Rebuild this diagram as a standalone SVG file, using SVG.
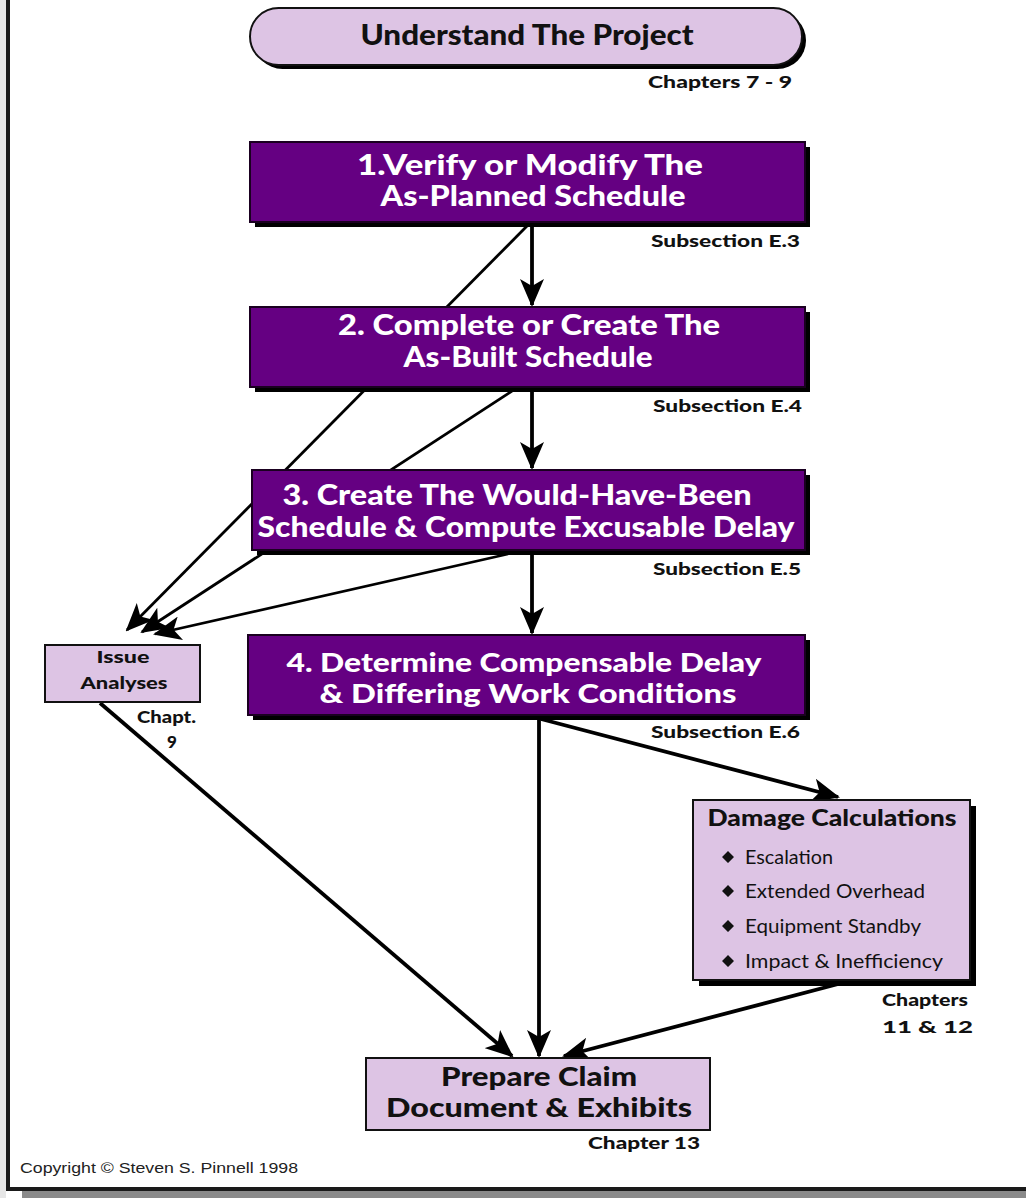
<svg xmlns="http://www.w3.org/2000/svg" width="1026" height="1198" viewBox="0 0 1026 1198">
<style>
.bg{fill:#ffffff}
.shadow{fill:#000000}
.purple{fill:#650082;stroke:#1a0020;stroke-width:2}
.lav{fill:#ddc4e4;stroke:#111;stroke-width:2}
.t{font-family:Lato,"Open Sans","Liberation Sans",sans-serif;font-weight:900}
.w{fill:#ffffff;font-size:28px;text-anchor:middle}
.k{fill:#111111}
.lbl{font-size:17px;text-anchor:end}
.item{font-family:Lato,"Open Sans","Liberation Sans",sans-serif;font-size:19px;fill:#111}
.edge{stroke:#000;stroke-width:3.8;fill:none}
.thin{stroke-width:2.8}
.arr{marker-end:url(#ah)}
</style>
<defs>
<marker id="ah" markerUnits="userSpaceOnUse" viewBox="0 0 28 24" markerWidth="28" markerHeight="24" refX="26" refY="12" orient="auto">
<path d="M0,0 L28,12 L0,24 L7,12 z" fill="#000"/>
</marker>
</defs>
<rect x="0" y="0" width="1026" height="1198" class="bg"/>
<rect x="0" y="0" width="6" height="1198" fill="#e6e6e6"/>
<rect x="6" y="0" width="4" height="1191" fill="#1a1a1a"/>
<rect x="6" y="1187" width="1020" height="4" fill="#1a1a1a"/>
<rect x="22" y="1191" width="1004" height="7" fill="#8a8a8a"/>

<g id="connectors">
<line class="edge thin arr" x1="527" y1="226" x2="127" y2="630"/>
<line class="edge thin arr" x1="512" y1="391" x2="142" y2="632"/>
<line class="edge thin arr" x1="508" y1="554" x2="155" y2="634"/>
<line class="edge arr" x1="532" y1="226" x2="532" y2="305"/>
<line class="edge arr" x1="532" y1="391" x2="532" y2="468"/>
<line class="edge arr" x1="532" y1="554" x2="532" y2="633"/>
<line class="edge arr" x1="539" y1="719" x2="539" y2="1056"/>
<line class="edge arr" x1="541" y1="719" x2="838" y2="797"/>
<line class="edge arr" x1="100" y1="703" x2="512" y2="1056"/>
<line class="edge arr" x1="842" y1="983" x2="564" y2="1056"/>
</g>

<g id="understand">
<rect x="254" y="12" width="552" height="57" rx="28.5" class="shadow"/>
<rect x="250" y="8" width="552" height="57" rx="28.5" class="lav"/>
<text x="527" y="45" class="t k" font-size="28" text-anchor="middle" textLength="333" lengthAdjust="spacingAndGlyphs">Understand The Project</text>
<text x="792" y="88" class="t k lbl" textLength="144" lengthAdjust="spacingAndGlyphs">Chapters 7 - 9</text>
</g>

<g id="step1">
<rect x="255" y="147" width="555" height="80" class="shadow"/>
<rect x="250" y="142" width="555" height="80" class="purple"/>
<text x="530" y="175" class="t w" textLength="346" lengthAdjust="spacingAndGlyphs">1.Verify or Modify The</text>
<text x="533" y="206" class="t w" textLength="305" lengthAdjust="spacingAndGlyphs">As-Planned Schedule</text>
<text x="800" y="247" class="t k lbl" textLength="149" lengthAdjust="spacingAndGlyphs">Subsection E.3</text>
</g>

<g id="step2">
<rect x="255" y="312" width="555" height="80" class="shadow"/>
<rect x="250" y="307" width="555" height="80" class="purple"/>
<text x="529" y="335" class="t w" textLength="382" lengthAdjust="spacingAndGlyphs">2. Complete or Create The</text>
<text x="528" y="367" class="t w" textLength="249" lengthAdjust="spacingAndGlyphs">As-Built Schedule</text>
<text x="802" y="412" class="t k lbl" textLength="149" lengthAdjust="spacingAndGlyphs">Subsection E.4</text>
</g>

<g id="step3">
<rect x="257" y="475" width="553" height="80" class="shadow"/>
<rect x="252" y="470" width="553" height="80" class="purple"/>
<text x="517" y="505" class="t w" textLength="469" lengthAdjust="spacingAndGlyphs">3. Create The Would-Have-Been</text>
<text x="526" y="537" class="t w" textLength="537" lengthAdjust="spacingAndGlyphs">Schedule &amp; Compute Excusable Delay</text>
<text x="801" y="575" class="t k lbl" textLength="148" lengthAdjust="spacingAndGlyphs">Subsection E.5</text>
</g>

<g id="step4">
<rect x="253" y="640" width="557" height="80" class="shadow"/>
<rect x="248" y="635" width="557" height="80" class="purple"/>
<text x="524" y="672" class="t w" style="font-size:27px" textLength="475" lengthAdjust="spacingAndGlyphs">4. Determine Compensable Delay</text>
<text x="528" y="703" class="t w" style="font-size:27px" textLength="417" lengthAdjust="spacingAndGlyphs">&amp; Differing Work Conditions</text>
<text x="800" y="738" class="t k lbl" textLength="149" lengthAdjust="spacingAndGlyphs">Subsection E.6</text>
</g>

<g id="issue">
<rect x="45" y="645" width="155" height="57" class="lav"/>
<text x="123" y="663" class="t k" font-size="17" text-anchor="middle" textLength="53" lengthAdjust="spacingAndGlyphs">Issue</text>
<text x="124" y="689" class="t k" font-size="17" text-anchor="middle" textLength="87" lengthAdjust="spacingAndGlyphs">Analyses</text>
<text x="196" y="723" class="t k lbl" textLength="59" lengthAdjust="spacingAndGlyphs">Chapt.</text>
<text x="172" y="748" class="t k" font-size="17" text-anchor="middle">9</text>
</g>

<g id="damage">
<rect x="699" y="806" width="277" height="180" class="shadow"/>
<rect x="693" y="800" width="277" height="180" class="lav"/>
<text x="832" y="826" class="t k" font-size="22" text-anchor="middle" textLength="249" lengthAdjust="spacingAndGlyphs">Damage Calculations</text>
<path d="M728,851 L734,857 L728,863 L722,857 z M728,885 L734,891 L728,897 L722,891 z M728,920 L734,926 L728,932 L722,926 z M728,955 L734,961 L728,967 L722,961 z" fill="#111"/>
<text x="745" y="864" class="item" textLength="88" lengthAdjust="spacingAndGlyphs">Escalation</text>
<text x="745" y="898" class="item" textLength="180" lengthAdjust="spacingAndGlyphs">Extended Overhead</text>
<text x="745" y="933" class="item" textLength="176" lengthAdjust="spacingAndGlyphs">Equipment Standby</text>
<text x="745" y="968" class="item" textLength="198" lengthAdjust="spacingAndGlyphs">Impact &amp; Inefficiency</text>
<text x="968" y="1006" class="t k lbl" textLength="86" lengthAdjust="spacingAndGlyphs">Chapters</text>
<text x="973" y="1033" class="t k lbl" textLength="91" lengthAdjust="spacingAndGlyphs">11 &amp; 12</text>
</g>

<g id="prepare">
<rect x="366" y="1058" width="344" height="72" class="lav"/>
<text x="539" y="1086" class="t k" font-size="27" text-anchor="middle" textLength="196" lengthAdjust="spacingAndGlyphs">Prepare Claim</text>
<text x="539" y="1117" class="t k" font-size="27" text-anchor="middle" textLength="306" lengthAdjust="spacingAndGlyphs">Document &amp; Exhibits</text>
<text x="700" y="1149" class="t k lbl" textLength="112" lengthAdjust="spacingAndGlyphs">Chapter 13</text>
</g>

<text x="20" y="1173" font-family="'Liberation Sans',Arial,sans-serif" font-size="14" fill="#222" textLength="278" lengthAdjust="spacingAndGlyphs">Copyright © Steven S. Pinnell 1998</text>
</svg>
